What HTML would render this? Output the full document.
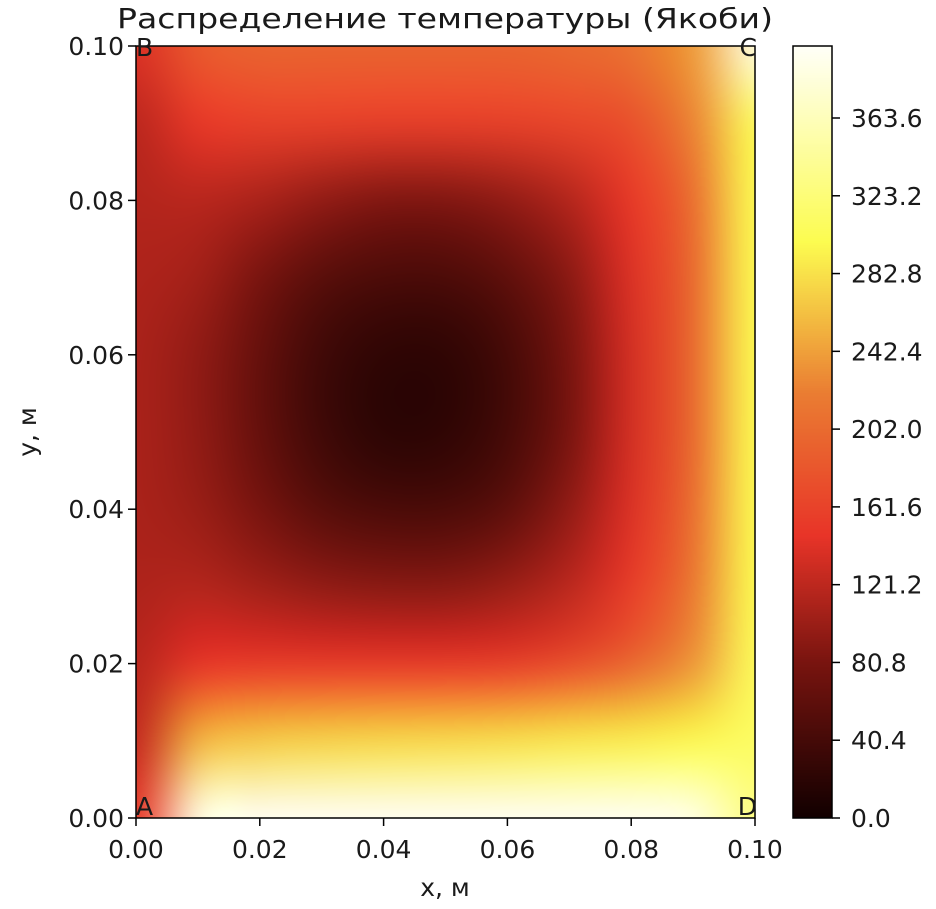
<!DOCTYPE html>
<html><head><meta charset="utf-8"><style>
body{margin:0;background:#fff;width:936px;height:909px;overflow:hidden;font-family:"DejaVu Sans","Liberation Sans",sans-serif}
#wrap{position:relative;width:936px;height:909px}
</style></head><body>
<div id="wrap">
<canvas id="heat" width="619" height="772" style="position:absolute;left:136px;top:46px"></canvas>
<canvas id="cbar" width="39" height="772" style="position:absolute;left:793px;top:46px"></canvas>
<svg id="ov" width="936" height="909" style="position:absolute;left:0;top:0" font-family="DejaVu Sans, Liberation Sans, sans-serif" fill="#1a1a1a"></svg>
</div>
<script>
const xTicks=["0.00","0.02","0.04","0.06","0.08","0.10"];
const yTicks=["0.00","0.02","0.04","0.06","0.08","0.10"];
const cbTicks=["0.0","40.4","80.8","121.2","161.6","202.0","242.4","282.8","323.2","363.6"];
const vmax=401;
// rows from y=0.10 (top) down to y=0.00, columns x=0.00..0.10
const temps=[
[140,185,195,195,195,195,195,200,210,240,390],
[120,150,160,160,158,158,160,165,175,225,305],
[115,118,110,95,85,85,95,115,150,205,300],
[112,105,80,55,45,45,60,90,140,200,300],
[110,95,65,35,22,22,40,80,135,200,300],
[110,95,65,35,20,22,40,80,135,200,300],
[110,100,80,55,45,45,60,95,140,205,300],
[112,115,105,95,90,90,100,120,155,215,300],
[118,145,150,150,150,150,155,170,195,235,305],
[125,255,270,275,278,280,283,288,292,298,310],
[150,390,400,400,400,400,400,400,400,392,330]
];
const stops=[[0,[18,0,0]],[0.2,[120,20,15]],[0.365,[232,52,40]],[0.55,[234,125,50]],[0.746,[252,252,80]],[1,[255,255,248]]];
function hot(v){const t=Math.max(0,Math.min(1,v/vmax));
for(let i=1;i<stops.length;i++){if(t<=stops[i][0]){const a=stops[i-1],b=stops[i];const f=(t-a[0])/(b[0]-a[0]);
return [0,1,2].map(k=>Math.round(a[1][k]+(b[1][k]-a[1][k])*f));}}return stops[stops.length-1][1];}
const PX0=136,PX1=755,PY0=46,PY1=818;
const xs=v=>PX0+(v/0.1)*(PX1-PX0), ys=v=>PY1-(v/0.1)*(PY1-PY0);
const ny=temps.length,nx=temps[0].length;
const src=document.createElement('canvas');src.width=nx;src.height=ny;
const sc=src.getContext('2d');const im=sc.createImageData(nx,ny);
for(let j=0;j<ny;j++)for(let i=0;i<nx;i++){const c=hot(temps[j][i]);const k=(j*nx+i)*4;im.data[k]=c[0];im.data[k+1]=c[1];im.data[k+2]=c[2];im.data[k+3]=255;}
sc.putImageData(im,0,0);
const hc=document.getElementById('heat').getContext('2d');hc.imageSmoothingEnabled=true;hc.imageSmoothingQuality='high';
hc.drawImage(src,0.5,0.5,nx-1,ny-1,0,0,619,772);
const cc=document.getElementById('cbar').getContext('2d');
for(let y=0;y<772;y++){const c=hot(vmax*(1-y/771));cc.fillStyle=`rgb(${c[0]},${c[1]},${c[2]})`;cc.fillRect(0,y,39,1);}
const svg=document.getElementById('ov');const NS='http://www.w3.org/2000/svg';
function mk(tag,attrs,txt){const e=document.createElementNS(NS,tag);for(const k in attrs)e.setAttribute(k,attrs[k]);if(txt!==undefined)e.textContent=txt;svg.appendChild(e);return e;}
let e;
e=mk('rect',{x:PX0,y:PY0,width:PX1-PX0,height:PY1-PY0,fill:'none',stroke:'#000','stroke-width':1.5});

e=mk('rect',{x:793,y:46,width:39,height:772,fill:'none',stroke:'#000','stroke-width':1.5});

xTicks.forEach(t=>{const x=xs(parseFloat(t));
e=mk('line',{x1:x,y1:PY1,x2:x,y2:PY1+8,stroke:'#000','stroke-width':1.5});
e=mk('text',{x:x,y:858,'text-anchor':'middle','font-size':25},t);});
yTicks.forEach(t=>{const y=ys(parseFloat(t));
e=mk('line',{x1:PX0-8,y1:y,x2:PX0,y2:y,stroke:'#000','stroke-width':1.5});
e=mk('text',{x:PX0-12,y:y+9,'text-anchor':'end','font-size':25},t);});
cbTicks.forEach(t=>{const y=818-parseFloat(t)/vmax*772;
e=mk('line',{x1:832,y1:y,x2:840,y2:y,stroke:'#000','stroke-width':1.5});
e=mk('text',{x:851,y:y+9,'font-size':25},t);});
e=mk('text',{x:117,y:28,'font-size':28,textLength:656,lengthAdjust:'spacingAndGlyphs'},'Распределение температуры (Якоби)');
e=mk('text',{x:445,y:896,'text-anchor':'middle','font-size':25},'x, м');
e=mk('text',{x:36,y:432,'text-anchor':'middle','font-size':25,transform:'rotate(-90 36 432)'},'y, м');
[['A',136,815,'start'],['B',136,56,'start'],['C',757,56,'end'],['D',757,815,'end']].forEach(p=>{
e=mk('text',{x:p[1],y:p[2],'text-anchor':p[3],'font-size':25},p[0]);});
</script>
</body></html>
